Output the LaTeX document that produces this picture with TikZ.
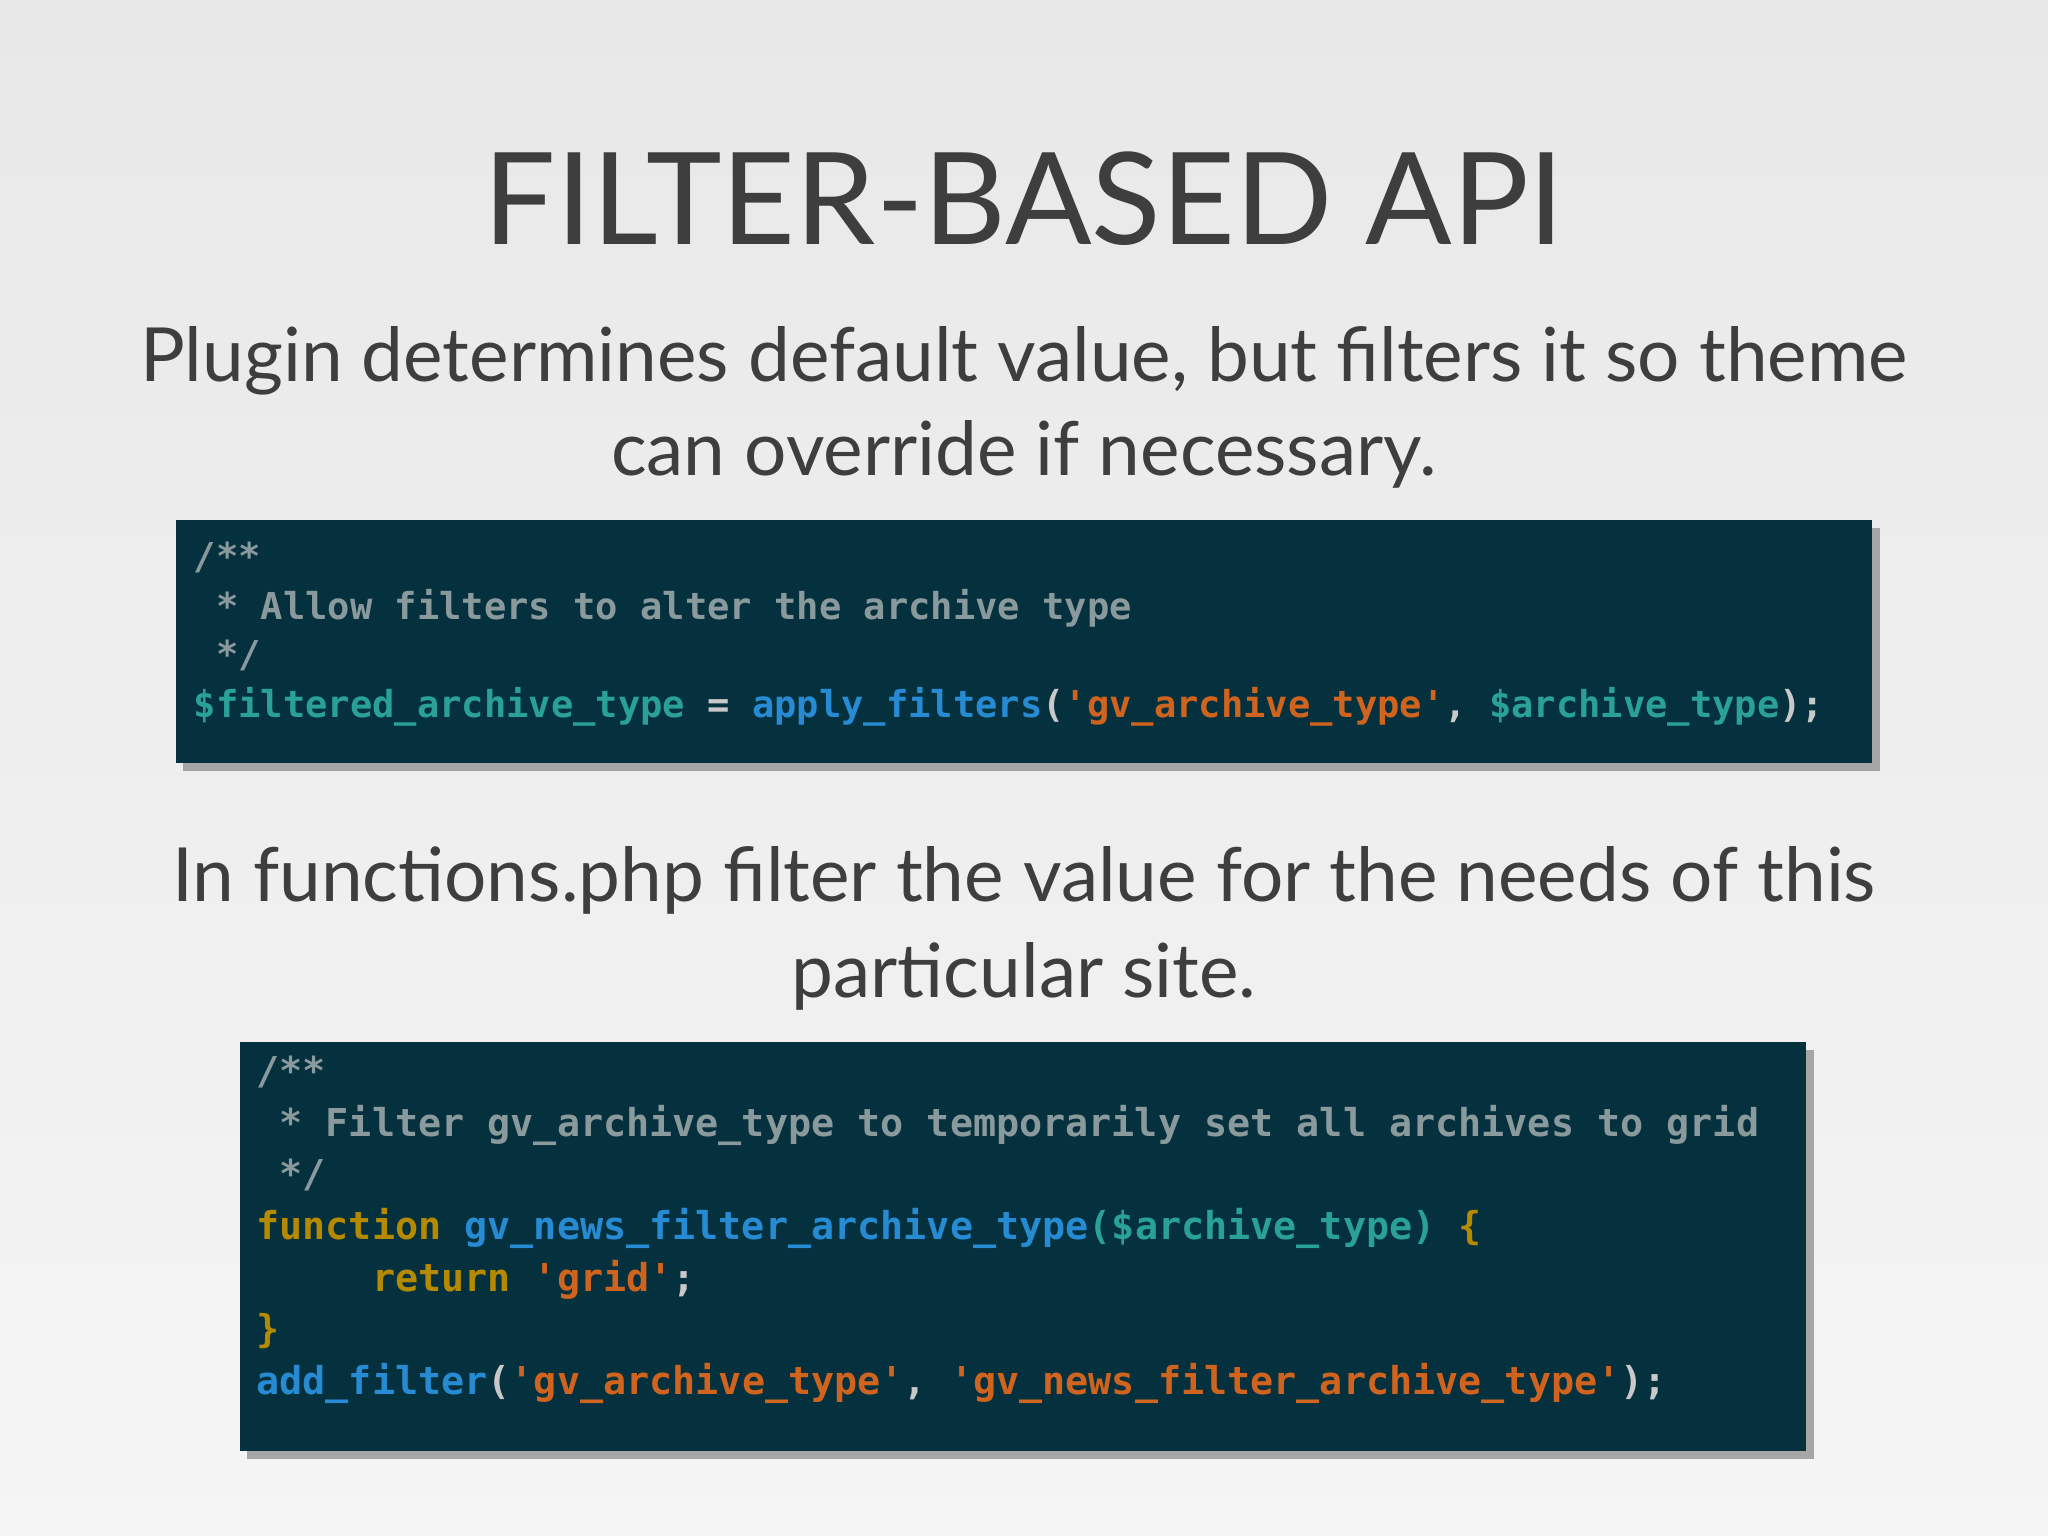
\documentclass[tikz,border=0pt]{standalone}
\usepackage{fontspec}
\setmainfont{Lato}
\newfontfamily\codefont{DejaVu Sans Mono}
\definecolor{bgc}{HTML}{05313F}
\definecolor{cmt}{HTML}{8A9A9C}
\definecolor{var}{HTML}{2AA198}
\definecolor{fun}{HTML}{268BD2}
\definecolor{str}{HTML}{D0641E}
\definecolor{kw}{HTML}{B58900}
\definecolor{pl}{HTML}{C9C9C9}
\definecolor{ttl}{HTML}{3E3E3E}
\newcommand{\Cm}[1]{\textcolor{cmt}{#1}}
\newcommand{\Vr}[1]{\textcolor{var}{#1}}
\newcommand{\Fn}[1]{\textcolor{fun}{#1}}
\newcommand{\St}[1]{\textcolor{str}{#1}}
\newcommand{\Kw}[1]{\textcolor{kw}{#1}}
\newcommand{\Pl}[1]{\textcolor{pl}{#1}}
\begin{document}
\begin{tikzpicture}[x=0.5pt,y=-0.5pt,
  code/.style={anchor=base west,inner sep=0,font=\codefont\bfseries\fontsize{14.2pt}{16pt}\selectfont},
  head/.style={text=ttl,inner sep=0,font=\fontsize{28.6pt}{34pt}\selectfont,anchor=base}]
\useasboundingbox (0,0) rectangle (1568,1176);
\shade[top color=black!9,bottom color=black!4] (0,0) rectangle (1568,1176);
\node[text=ttl,inner sep=0,anchor=base,font=\fontsize{49pt}{56pt}\selectfont] (title) at (784,187) {FILTER-BASED API};
\node[head] (s1) at (784,292) {Plugin determines default value, but filters it so theme};
\node[head] (s2) at (784,364) {can override if necessary.};
\node[head] (s3) at (784,690) {In functions.php filter the value for the needs of this};
\node[head] (s4) at (784,764) {particular site.};
\fill[black!35] (140,404) rectangle (1439,590);
\fill[bgc] (135,398) node (b1) {} rectangle (1433,584);
\fill[black!35] (189,804) rectangle (1389,1117);
\fill[bgc] (184,798) node (b2) {} rectangle (1383,1111);
\node[code] (a1) at (148,436) {\Cm{/**}};
\node[code] (a2) at (148,474) {\Cm{\ * Allow filters to alter the archive type}};
\node[code] (a3) at (148,511) {\Cm{\ */}};
\node[code] (a4) at (148,549) {\Vr{\$filtered\_archive\_type} \Pl{=} \Fn{apply\_filters}\Pl{(}\St{'gv\_archive\_type'}\Pl{,} \Vr{\$archive\_type}\Pl{);}};
\begin{scope}[code/.append style={font=\codefont\bfseries\fontsize{14.7pt}{16pt}\selectfont}]
\node[code] (c1) at (196,830) {\Cm{/**}};
\node[code] (c2) at (196,870) {\Cm{\ * Filter gv\_archive\_type to temporarily set all archives to grid}};
\node[code] (c3) at (196,909) {\Cm{\ */}};
\node[code] (c4) at (196,949) {\Kw{function} \Fn{gv\_news\_filter\_archive\_type}\Vr{(\$archive\_type)} \Kw{\{}};
\node[code] (c5) at (196,989) {\phantom{xxxxx}\Kw{return} \St{'grid'}\Pl{;}};
\node[code] (c6) at (196,1028) {\Kw{\}}};
\node[code] (c7) at (196,1068) {\Fn{add\_filter}\Pl{(}\St{'gv\_archive\_type'}\Pl{,} \St{'gv\_news\_filter\_archive\_type'}\Pl{);}};
\end{scope}
\end{tikzpicture}
\end{document}
